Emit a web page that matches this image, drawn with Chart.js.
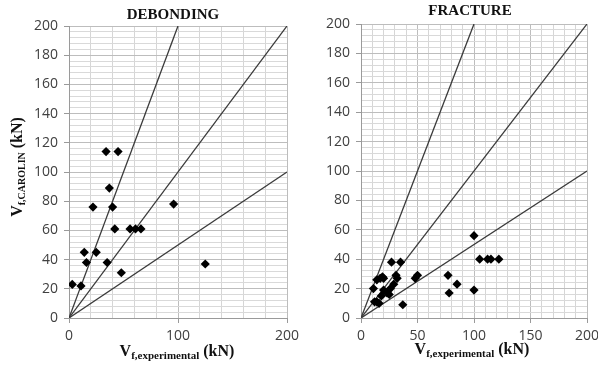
<!DOCTYPE html>
<html>
<head>
<meta charset="utf-8">
<script src="https://cdn.jsdelivr.net/npm/chart.js@4"></script>
<style>
  html, body { margin: 0; padding: 0; background: #fff; }
  .wrap { position: relative; width: 598px; height: 367px; }
  #left  { position: absolute; left: 0;   top: 0; }
  #right { position: absolute; left: 300px; top: 0; }
</style>
</head>
<body>
<div class="wrap">
  <canvas id="left" width="300" height="367"></canvas>
  <canvas id="right" width="298" height="367"></canvas>
</div>
<script>
// ── Dados ───────────────────────────────────────────────────────────────────
const debondX = [3, 11, 14, 16, 22, 25, 34, 35, 37, 40, 42, 45, 48, 56, 61, 66, 96, 125];
const debondY = [23, 22, 45, 38, 76, 45, 114, 38, 89, 76, 61, 114, 31, 61, 61, 61, 78, 37];

const fractureX = [11, 14, 17, 19, 20, 12, 14, 16, 18, 20, 23, 25, 26, 29, 27, 35, 31, 32, 37, 48, 50, 77, 78, 85, 100, 100, 105, 112, 115, 122];
const fractureY = [20, 26, 27, 28, 27, 11, 11, 10, 15, 19, 17, 16, 20, 23, 38, 38, 29, 27, 9, 27, 29, 29, 17, 23, 56, 19, 40, 40, 40, 40];

// linhas de referência: y = 2x, y = x, y = 0.5x
const refSlopes = [2, 1, 0.5];
const axisMax = 200;

const leftXLabels  = [0, 100, 200];
const rightXLabels = [0, 50, 100, 150, 200];
const yLabels      = [0, 20, 40, 60, 80, 100, 120, 140, 160, 180, 200];

// ── Helpers ─────────────────────────────────────────────────────────────────
const TICK_FONT = { family: "'Open Sans', Lato, sans-serif", size: 14 };
const SERIF = "'Liberation Serif', 'DejaVu Serif', serif";

function refLine(slope) {
  const xEnd = Math.min(axisMax, axisMax / slope);
  return {
    type: "line",
    data: [{ x: 0, y: 0 }, { x: xEnd, y: xEnd * slope }],
    borderColor: "#3a3a3a",
    borderWidth: 1.3,
    pointRadius: 0,
    order: 2,
  };
}

function drawParts(ctx, cx, cy, parts) {
  let total = 0;
  parts.forEach(p => { ctx.font = p.font; p.w = ctx.measureText(p.t).width; total += p.w; });
  let x = cx - total / 2;
  ctx.textAlign = "left";
  ctx.textBaseline = "alphabetic";
  parts.forEach(p => {
    ctx.font = p.font;
    ctx.fillText(p.t, x, cy + (p.dy || 0));
    x += p.w;
  });
}

const labelsPlugin = {
  id: "labels",
  afterDraw(chart, args, opts) {
    const ctx = chart.ctx;
    ctx.save();
    ctx.fillStyle = "#111";
    ctx.font = `bold 15px ${SERIF}`;
    ctx.textAlign = "center";
    ctx.fillText(opts.title, opts.titleX, opts.titleY);

    drawParts(ctx, opts.xTitleX, opts.xTitleY, [
      { t: "V", font: `bold 16px ${SERIF}` },
      { t: "f,experimental", font: `bold 11px ${SERIF}`, dy: 3 },
      { t: " (kN)", font: `bold 16px ${SERIF}` },
    ]);

    if (opts.yTitle) {
      ctx.translate(opts.yTitleX, opts.yTitleY);
      ctx.rotate(-Math.PI / 2);
      drawParts(ctx, 0, 0, [
        { t: "V", font: `bold 16px ${SERIF}` },
        { t: "f,CAROLIN", font: `bold 10px ${SERIF}`, dy: 3 },
        { t: " (kN)", font: `bold 16px ${SERIF}` },
      ]);
    }
    ctx.restore();
  },
};

function makeChart(id, xs, ys, cfg) {
  const isMajorX = v => cfg.xLabels.includes(v);
  const isMajorY = v => yLabels.includes(v);

  return new Chart(document.getElementById(id), {
    type: "scatter",
    data: {
      datasets: [
        {
          data: xs.map((x, i) => ({ x, y: ys[i] })),
          pointStyle: "rectRot",
          pointRadius: 4.6,
          backgroundColor: "#000",
          borderColor: "#000",
          borderWidth: 0,
          order: 1,
        },
        ...refSlopes.map(refLine),
      ],
    },
    options: {
      responsive: false,
      animation: false,
      layout: { padding: cfg.padding },
      plugins: {
        legend: { display: false },
        tooltip: { enabled: false },
        labels: cfg.labels,
      },
      scales: {
        x: {
          type: "linear",
          min: 0, max: axisMax,
          afterFit: s => { s.height = cfg.xAxisH; s.paddingLeft = 0; s.paddingRight = 0; },
          afterBuildTicks: s => {
            s.ticks = [];
            for (let v = 0; v <= axisMax; v += cfg.xStep) s.ticks.push({ value: v });
          },
          ticks: {
            autoSkip: false, maxRotation: 0,
            color: "#404040", font: TICK_FONT, padding: 5,
            callback: v => isMajorX(v) ? String(v) : "",
          },
          grid: {
            color: c => isMajorX(c.tick?.value) ? "#bdbdbd" : "#d6d6d6",
            tickColor: c => isMajorX(c.tick?.value) ? "#9a9a9a" : "rgba(0,0,0,0)",
            tickLength: 5,
            lineWidth: 1,
          },
          border: { color: "#9a9a9a" },
        },
        y: {
          type: "linear",
          min: 0, max: axisMax,
          afterFit: s => { s.width = cfg.yAxisW; s.paddingTop = 0; s.paddingBottom = 0; },
          afterBuildTicks: s => {
            s.ticks = [];
            for (let v = 0; v <= axisMax; v += 4) s.ticks.push({ value: v });
          },
          ticks: {
            autoSkip: false,
            color: "#404040", font: TICK_FONT, padding: 6,
            callback: v => isMajorY(v) ? String(v) : "",
          },
          grid: {
            color: c => isMajorY(c.tick?.value) ? "#bdbdbd" : "#d9d9d9",
            tickColor: c => isMajorY(c.tick?.value) ? "#9a9a9a" : "rgba(0,0,0,0)",
            tickLength: 5,
            lineWidth: 1,
          },
          border: { color: "#9a9a9a" },
        },
      },
    },
    plugins: [labelsPlugin],
  });
}

// ── Gráficos ────────────────────────────────────────────────────────────────
makeChart("left", debondX, debondY, {
  xLabels: leftXLabels,
  xStep: 20,
  padding: { left: 0, right: 13, top: 26, bottom: 0 },
  yAxisW: 69,
  xAxisH: 49,
  labels: {
    title: "DEBONDING", titleX: 173, titleY: 19,
    xTitleX: 177, xTitleY: 356,
    yTitle: true, yTitleX: 22, yTitleY: 167,
  },
});

makeChart("right", fractureX, fractureY, {
  xLabels: rightXLabels,
  xStep: 10,
  padding: { left: 0, right: 11, top: 24, bottom: 0 },
  yAxisW: 61,
  xAxisH: 49,
  labels: {
    title: "FRACTURE", titleX: 170, titleY: 15,
    xTitleX: 172, xTitleY: 354,
    yTitle: false,
  },
});
</script>
</body>
</html>
